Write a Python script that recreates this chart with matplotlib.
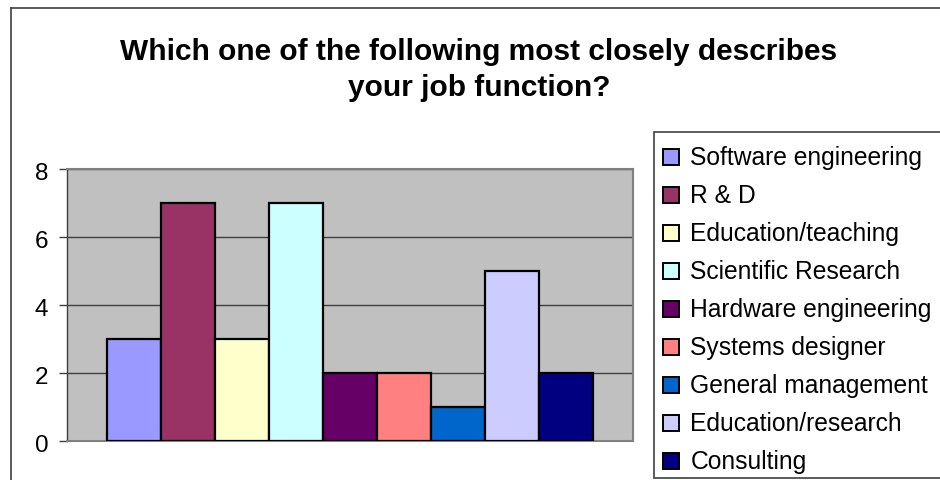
import matplotlib.pyplot as plt
import matplotlib.transforms as mtransforms
from matplotlib.patches import Patch, Rectangle
from matplotlib.lines import Line2D

plt.rcParams['font.family'] = ['Liberation Sans', 'DejaVu Sans']

# survey answers, one bar per job function
functions = ['Software engineering', 'R & D', 'Education/teaching', 'Scientific Research',
             'Hardware engineering', 'Systems designer', 'General management',
             'Education/research', 'Consulting']
counts = [3, 7, 3, 7, 2, 2, 1, 5, 2]
colors = ['#9999FF', '#993366', '#FFFFCC', '#CCFFFF', '#660066',
          '#FF8080', '#0066CC', '#CCCCFF', '#000080']
y_ticks = [0, 2, 4, 6, 8]
title = 'Which one of the following most closely describes\nyour job function?'

W, H = 940, 480
fig = plt.figure(figsize=(W / 100, H / 100), dpi=100)
fig.patch.set_facecolor('white')

# chart frame (left and top edges show, the rest runs off the canvas)
fig.add_artist(Line2D([11 / W, 11 / W], [0, 1 - 8 / H], color='#404040', lw=1.2,
                      transform=fig.transFigure))
fig.add_artist(Line2D([11 / W, 1], [1 - 8 / H, 1 - 8 / H], color='#404040', lw=1.2,
                      transform=fig.transFigure))

ax = fig.add_axes([67 / W, 39 / H, 566 / W, 272 / H])
ax.set_facecolor('#C0C0C0')

x = list(range(len(counts)))
bars = ax.bar(x, counts, width=1.0, color=colors, edgecolor='black', linewidth=1.6, zorder=3)

ax.set_xlim(-0.5 - 0.74, len(counts) - 0.5 + 0.74)
ax.set_ylim(0, 8)
ax.set_yticks(y_ticks)
ax.set_xticks([])
ax.yaxis.grid(True, color='#404040', linewidth=1.0, zorder=1)
ax.set_axisbelow(True)
ax.tick_params(axis='y', direction='out', length=5.5, width=1, color='#404040',
               labelsize=17.5, pad=8)
# excel-style labels sit a little below their ticks
shift = mtransforms.ScaledTranslation(0, -3 / 100, fig.dpi_scale_trans)
for lbl in ax.get_yticklabels():
    lbl.set_transform(lbl.get_transform() + shift)
for side in ['top', 'right', 'bottom']:
    ax.spines[side].set_color('#808080')
    ax.spines[side].set_linewidth(1.5)
ax.spines['left'].set_color('#404040')
ax.spines['left'].set_linewidth(1.0)

fig.text(479 / W, 1 - 38 / H, title, ha='center', va='top', fontsize=21.5,
         fontweight='bold', linespacing=1.38)

# legend box
fig.add_artist(Rectangle((654 / W, 2 / H), 1, 1 - 134 / H, transform=fig.transFigure,
                         facecolor='white', edgecolor='#404040', lw=1.2))
handles = [Patch(facecolor=c, edgecolor='black', linewidth=1.4) for c in colors]
fig.legend(handles, functions, loc='upper left', bbox_to_anchor=(656 / W, 1 - 139 / H),
           frameon=False, fontsize=17.7, handlelength=0.65, handleheight=0.65,
           handletextpad=0.45, labelspacing=0.57, borderaxespad=0, borderpad=0.3)

fig.savefig('out.png', dpi=100)
